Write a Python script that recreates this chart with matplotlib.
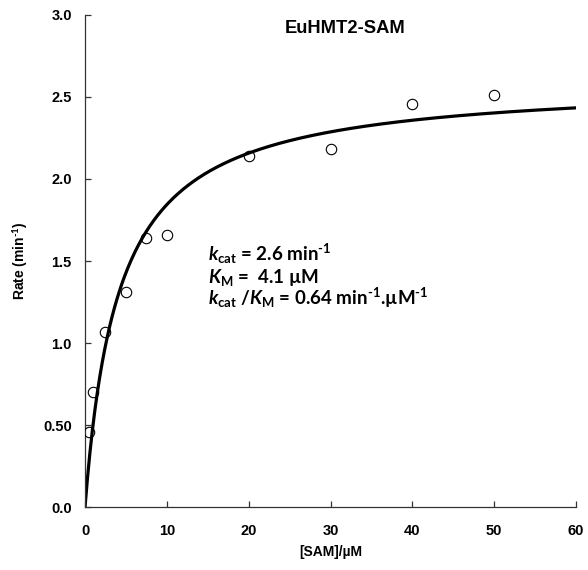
import numpy as np
import matplotlib
matplotlib.use("Agg")
import matplotlib.pyplot as plt

# Measured initial rates vs SAM concentration
sam_conc = [0.5, 1.0, 2.5, 5.0, 7.5, 10.0, 20.0, 30.0, 40.0, 50.0]
rate = [0.46, 0.70, 1.07, 1.31, 1.64, 1.66, 2.14, 2.18, 2.46, 2.51]

# Michaelis-Menten fit parameters
kcat = 2.6
km = 4.1
kcat_km = 0.64

xticks = [0, 10, 20, 30, 40, 50, 60]
yticks = [0.0, 0.5, 1.0, 1.5, 2.0, 2.5, 3.0]
ytick_labels = ["0.0", "0.50", "1.0", "1.5", "2.0", "2.5", "3.0"]

HY = "\u2010"  # short hyphen for superscript exponents

plt.rcParams["font.family"] = ["Liberation Sans", "DejaVu Sans"]
plt.rcParams["mathtext.fontset"] = "custom"
plt.rcParams["mathtext.rm"] = "Liberation Sans:bold"
plt.rcParams["mathtext.bf"] = "Liberation Sans:bold"
plt.rcParams["mathtext.it"] = "Lato:bold:italic"
plt.rcParams["mathtext.bfit"] = "Lato:bold:italic"

fig = plt.figure(figsize=(5.88, 5.70), dpi=100)
ax = fig.add_axes([0.1446, 0.1105, 0.8350, 0.8632])

xs = np.linspace(0, 60, 400)
ax.plot(xs, kcat * xs / (km + xs), color="black", lw=2.3, zorder=2)
ax.plot(sam_conc, rate, linestyle="none", marker="o", ms=7.5,
        mfc="none", mec="black", mew=0.8, zorder=3)

ax.set_xlim(0, 60)
ax.set_ylim(0, 3.0)
ax.set_xticks(xticks)
ax.set_yticks(yticks)
ax.set_yticklabels(ytick_labels)
for s in ("top", "right"):
    ax.spines[s].set_visible(False)
for s in ("left", "bottom"):
    ax.spines[s].set_color("#333333")
    ax.spines[s].set_linewidth(0.9)
ax.tick_params(direction="in", length=4, width=0.9, color="#333333",
               labelsize=10.5)
ax.tick_params(axis="x", pad=12)
ax.tick_params(axis="y", pad=9.5)
for lab in ax.get_xticklabels() + ax.get_yticklabels():
    lab.set_fontweight("bold")

ax.set_xlabel("[SAM]/\u00b5M", fontsize=10, fontweight="bold")
ax.xaxis.set_label_coords(0.5, -0.078)
ax.set_ylabel(f"Rate (min$^{{\\mathbf{{{HY}1}}}}$)", fontsize=10,
              fontweight="bold")
ax.yaxis.set_label_coords(-0.112, 0.5)

ax.text(0.53, 0.99, "EuHMT2-SAM", transform=ax.transAxes, ha="center",
        va="top", fontsize=13.2, fontweight="bold")

# Fit parameters, written in Lato
plt.rcParams["mathtext.rm"] = "Lato:bold"
plt.rcParams["mathtext.bf"] = "Lato:bold"
ann = dict(fontsize=13.5, fontweight="bold", family="Lato", ha="left",
           va="baseline", transform=ax.transData)
ax.text(15.0, 1.50,
        f"$\\mathbfit{{k}}_{{\\mathbf{{cat}}}}$ = {kcat} min$^{{\\mathbf{{{HY}1}}}}$",
        **ann)
ax.text(15.0, 1.365,
        f"$\\mathbfit{{K}}_{{\\mathbf{{M}}}}$ =  {km} \u00b5M", **ann)
ax.text(15.0, 1.23,
        f"$\\mathbfit{{k}}_{{\\mathbf{{cat}}}}$ /$\\mathbfit{{K}}_{{\\mathbf{{M}}}}$ = "
        f"{kcat_km} min$^{{\\mathbf{{{HY}1}}}}$.\u00b5M$^{{\\mathbf{{{HY}1}}}}$",
        **ann)

fig.savefig("out.png", dpi=100)
